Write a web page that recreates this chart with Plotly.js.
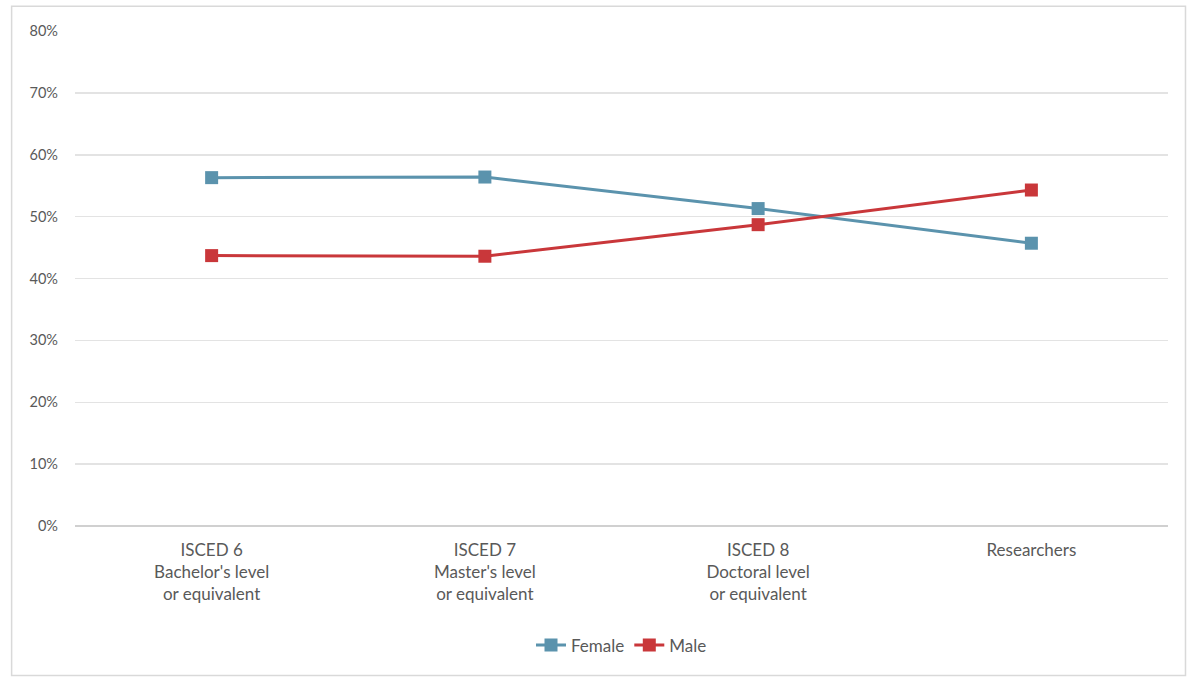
<!DOCTYPE html>
<html><head><meta charset="utf-8">
<script src="https://cdn.plot.ly/plotly-3.0.1.min.js"></script>
<style>html,body{margin:0;padding:0;background:#fff}#c{width:1192px;height:681px}</style>
</head><body><div id="c"></div>
<script>
const categories = ["ISCED 6<br>Bachelor's level<br>or equivalent", "ISCED 7<br>Master's level<br>or equivalent", "ISCED 8<br>Doctoral level<br>or equivalent", "Researchers"];
const female = [0.563, 0.564, 0.513, 0.457];
const male = [0.437, 0.436, 0.487, 0.543];
const yTicks = [0,0.1,0.2,0.3,0.4,0.5,0.6,0.7,0.8];
const yTickText = ["0%","10%","20%","30%","40%","50%","60%","70%","80%"];

const font = {family: "Lato, 'Liberation Sans', sans-serif", color: "#595959"};
const traces = [
  {x: categories, y: female, name: "Female", type: "scatter", mode: "lines+markers",
   line: {color: "#5b93ad", width: 3}, marker: {symbol: "square", size: 13, color: "#5b93ad"}},
  {x: categories, y: male, name: "Male", type: "scatter", mode: "lines+markers",
   line: {color: "#c9373a", width: 3}, marker: {symbol: "square", size: 13, color: "#c9373a"}}
];
const layout = {
  width: 1192, height: 681,
  margin: {l: 75, r: 24, t: 31, b: 155},
  paper_bgcolor: "#fff", plot_bgcolor: "#fff",
  font: Object.assign({size: 14}, font),
  showlegend: true,
  legend: {orientation: "h", x: 0.5, xanchor: "center", y: -0.205, yanchor: "top",
           font: Object.assign({size: 17}, font)},
  xaxis: {type: "category", range: [-0.5, 3.5], showgrid: false, zeroline: false, showline: false,
          ticks: "", ticklabelstandoff: 12, tickfont: Object.assign({size: 17}, font)},
  yaxis: {range: [0, 0.8], tickvals: yTicks, ticktext: yTickText, showgrid: true,
          gridcolor: "#e3e3e3", gridwidth: 1.5, zeroline: true, zerolinecolor: "#d0d0d0", zerolinewidth: 1.5,
          showline: false, ticks: "", ticklabelstandoff: 16, tickfont: Object.assign({size: 14.5}, font)},
  shapes: [{type: "rect", xref: "paper", yref: "paper", x0: -0.058, x1: 1.016, y0: -0.302, y1: 1.05,
            line: {color: "#d9d9d9", width: 1.5}}]
};
Plotly.newPlot("c", traces, layout, {displayModeBar: false, staticPlot: true});
</script></body></html>
